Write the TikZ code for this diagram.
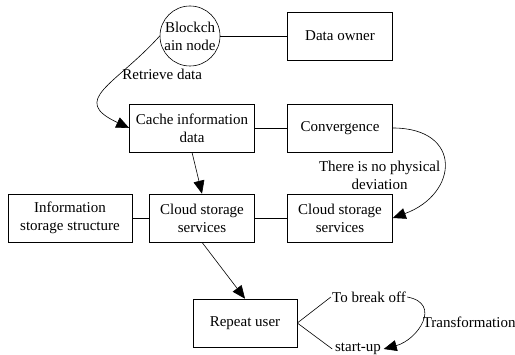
\documentclass[tikz,border=0pt]{standalone}
\usepackage{fontspec}
\setmainfont{Liberation Serif}
\usepackage{tikz}
\usetikzlibrary{shapes.geometric, arrows.meta}
\tikzstyle{block} = [rectangle, minimum width=105pt, minimum height=48pt, inner xsep=6pt, align=center, draw=black]
\tikzstyle{chainnode} = [circle, minimum size=60pt, inner sep=0pt, align=center, draw=black]
\tikzstyle{word} = [inner sep=1pt]
\tikzstyle{arrow} = [-{Triangle[length=13pt, width=11pt]}]

\begin{document}
\begin{tikzpicture}[node distance=90pt, line width=0.6pt, font=\fontsize{15}{18}\selectfont]
        \useasboundingbox (0,0) rectangle (515pt,-355pt);

        \node (chain) [chainnode] at (190pt,-36pt) {Blockch\\ain node};
        \node (owner) [block, right of=chain, xshift=60pt] {Data owner};
        \node (cache) [block, below of=chain, xshift=2pt, yshift=-2pt, minimum width=125pt] {Cache information\\data};
        \node (conv) [block, right of=cache, xshift=58pt] {Convergence};
        \node (cloud) [block, below of=cache, xshift=10pt] {Cloud storage\\services};
        \node (cloudb) [block, right of=cloud, xshift=48pt] {Cloud storage\\services};
        \node (info) [block, left of=cloud, xshift=-42pt, minimum width=124pt] {Information\\storage structure};
        \node (user) [block, below of=cloud, xshift=43pt, yshift=-15pt, minimum width=104pt] {Repeat user};
        \node (breakoff) [word, right of=user, xshift=34pt, yshift=26pt] {To break off};
        \node (startup) [word, right of=user, xshift=23pt, yshift=-26pt, inner sep=2.5pt] {start-up};

        \draw (chain) -- (owner);
        \draw (cache) -- (conv);
        \draw (info) -- (cloud);
        \draw (cloud) -- (cloudb);
        \draw [arrow] (cache.south) -- (cloud.north);
        \draw [arrow] (cloud.south) -- (user.north);
        \draw [arrow] (chain.west) to[out=228, in=155, looseness=1.75]
            node [pos=0.3, right, inner sep=0pt, yshift=-2pt] {Retrieve data} (cache.west);
        \draw [arrow] (conv.east) to[out=0, in=20, looseness=2]
            node [pos=0.5, left, align=center, yshift=-11pt] {There is no physical\\deviation} (cloudb.east);
        \draw (user.east) -- (breakoff.west);
        \draw (user.east) -- (startup.west);
        \draw [arrow] (breakoff.east) to[out=-10, in=15, looseness=1.6]
            node [pos=0.5, right, inner sep=1pt] {Transformation} (startup.east);
    \end{tikzpicture}
\end{document}
